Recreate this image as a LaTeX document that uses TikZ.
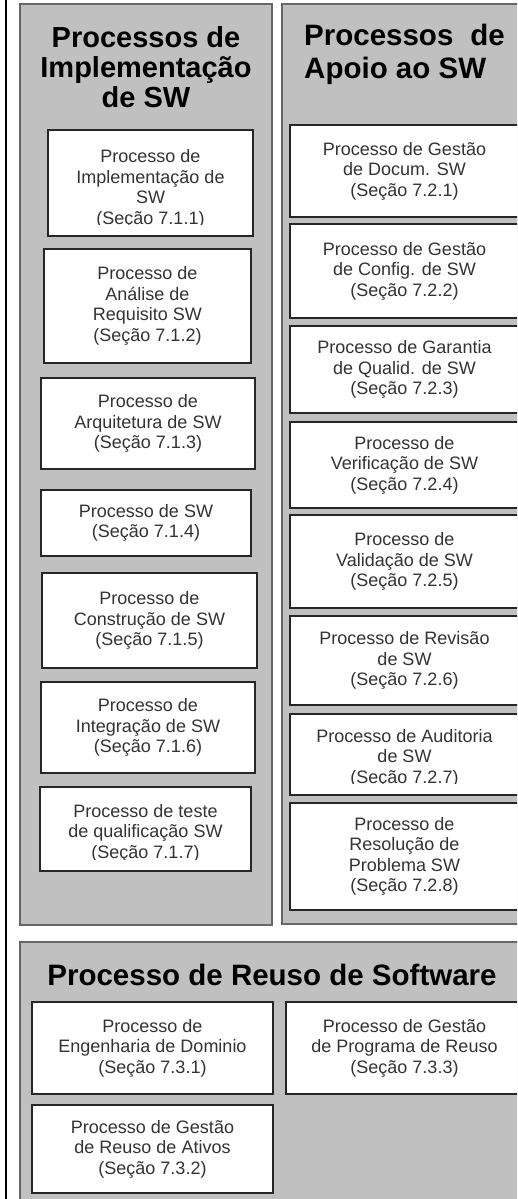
\documentclass[tikz,border=0pt]{standalone}
\usepackage{fontspec}
\setmainfont{Liberation Sans}
\definecolor{panel}{RGB}{192,192,192}
\tikzset{
  panelbox/.style={draw=black!60, line width=1.4pt, fill=panel},
  procbox/.style={draw=black!85, line width=1.3pt, fill=white, inner sep=0pt, outer sep=0pt,
    align=center, text=black!80, font=\fontsize{18}{20.5}\selectfont},
  proctext/.style={inner sep=0pt, align=center, text=black!80, font=\fontsize{18}{20.5}\selectfont},
  ptitle/.style={font=\bfseries\fontsize{29}{30}\selectfont, align=center, inner sep=0pt},
}
\newcommand\pbox[6]{\node[procbox, minimum width={#4-#2}, minimum height={#5-#3}] (#1) at ({(#2+#4)/2},{(#3+#5)/2}) {#6};}
\newcommand\cbox[8]{%
  \node[procbox, minimum width={#4-#2}, minimum height={#5-#3}] (#1) at ({(#2+#4)/2},{(#3+#5)/2}) {};
  \begin{scope}
    \clip (#2,#3) rectangle (#4,#6);
    \node[proctext] (#1t) at ({(#2+#4)/2},#7) {#8};
  \end{scope}}
\begin{document}
\begin{tikzpicture}[x=1pt,y=-1pt]
\useasboundingbox (0,0) rectangle (517,1199);
\clip (0,0) rectangle (517,1199);
\fill[white] (0,0) rectangle (517,1199);
% left black rule
\draw[line width=2.6pt] (6,-5) -- (6,1210);
% panels
\draw[panelbox] (20,4) rectangle (272,925);
\draw[panelbox] (282,4) rectangle (540,924);
\draw[panelbox] (20,942) rectangle (540,1215);
% titles
\node[ptitle] (t1) at (146,67) {Processos de\\Implementação\\de SW};
\node[ptitle, align=left, anchor=west, font=\bfseries\fontsize{29.5}{33}\selectfont] (t2) at (304,54) {Processos\hspace{0.3em} de\\Apoio ao SW};
\node[ptitle, font=\bfseries\fontsize{29.5}{31}\selectfont] (t3) at (272,975) {Processo de Reuso de Software};
% left column
\cbox{l1}{48}{130}{253}{236}{224}{189}{Processo de\\Implementação de\\SW\\(Seção 7.1.1)}
\pbox{l2}{44}{249}{251}{363}{Processo de\\Análise de\\Requisito SW\\(Seção 7.1.2)}
\pbox{l3}{41}{378}{255}{469}{Processo de\\Arquitetura de SW\\(Seção 7.1.3)}
\pbox{l4}{41}{490}{251}{556}{Processo de SW\\(Seção 7.1.4)}
\pbox{l5}{42}{573}{257}{668}{Processo de\\Construção de SW\\(Seção 7.1.5)}
\pbox{l6}{41}{682}{255}{773}{Processo de\\Integração de SW\\(Seção 7.1.6)}
\cbox{l7}{40}{787}{251}{871}{859}{833}{Processo de teste\\de qualificação SW\\(Seção 7.1.7)}
% right column
\pbox{r1}{290}{125}{519}{217}{Processo de Gestão\\de Docum. SW\\(Seção 7.2.1)}
\pbox{r2}{290}{224}{519}{318}{Processo de Gestão\\de Config. de SW\\(Seção 7.2.2)}
\pbox{r3}{290}{326}{519}{413}{Processo de Garantia\\de Qualid. de SW\\(Seção 7.2.3)}
\pbox{r4}{290}{422}{519}{508}{Processo de\\Verificação de SW\\(Seção 7.2.4)}
\pbox{r5}{290}{515}{519}{608}{Processo de\\Validação de SW\\(Seção 7.2.5)}
\pbox{r6}{290}{616}{519}{705}{Processo de Revisão\\de SW\\(Seção 7.2.6)}
\cbox{r7}{290}{714}{519}{795}{783}{758}{Processo de Auditoria\\de SW\\(Seção 7.2.7)}
\pbox{r8}{290}{803}{519}{910}{Processo de\\Resolução de\\Problema SW\\(Seção 7.2.8)}
% bottom
\pbox{b1}{32}{1002}{273}{1094}{Processo de\\Engenharia de Dominio\\(Seção 7.3.1)}
\pbox{b2}{286}{1002}{523}{1094}{Processo de Gestão\\de Programa de Reuso\\(Seção 7.3.3)}
\pbox{b3}{32}{1105}{273}{1193}{Processo de Gestão\\de Reuso de Ativos\\(Seção 7.3.2)}
\end{tikzpicture}
\end{document}
